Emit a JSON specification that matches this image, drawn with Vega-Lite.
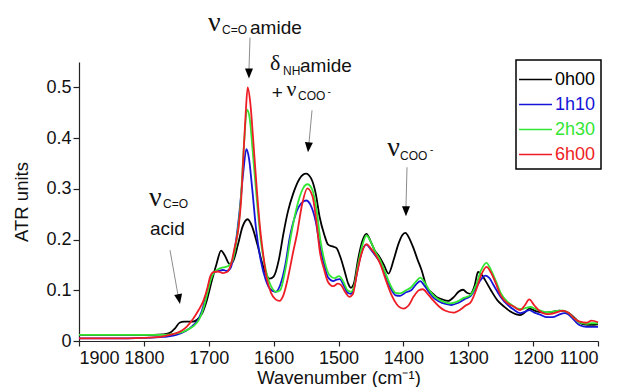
{
  "$schema": "https://vega.github.io/schema/vega-lite/v6.json",
  "width": 519,
  "height": 279,
  "autosize": {"type": "none"},
  "padding": {"left": 79, "top": 62, "right": 20, "bottom": 46},
  "background": "white",
  "config": {
    "view": {"stroke": null},
    "font": "Liberation Sans",
    "axis": {"grid": false, "domainColor": "#222", "tickColor": "#222", "domainWidth": 1.2, "tickWidth": 1.2, "labelColor": "#111", "titleColor": "#111", "labelFontSize": 18, "titleFontSize": 18.5, "titleFontWeight": "normal", "labelFont": "Liberation Sans", "titleFont": "Liberation Sans"}
  },
  "datasets": {
    "spectra": [
      {"s":"0h00","w":1900,"v":0.012},{"s":"0h00","w":1850,"v":0.012},{"s":"0h00","w":1800,"v":0.012},{"s":"0h00","w":1770,"v":0.013},{"s":"0h00","w":1760,"v":0.016},{"s":"0h00","w":1752,"v":0.025},{"s":"0h00","w":1745,"v":0.036},{"s":"0h00","w":1738,"v":0.038},{"s":"0h00","w":1725,"v":0.038},{"s":"0h00","w":1718,"v":0.042},{"s":"0h00","w":1710,"v":0.055},{"s":"0h00","w":1703,"v":0.08},{"s":"0h00","w":1695,"v":0.12},{"s":"0h00","w":1688,"v":0.152},{"s":"0h00","w":1681,"v":0.178},{"s":"0h00","w":1675,"v":0.168},{"s":"0h00","w":1668,"v":0.152},{"s":"0h00","w":1663,"v":0.156},{"s":"0h00","w":1655,"v":0.19},{"s":"0h00","w":1648,"v":0.225},{"s":"0h00","w":1640,"v":0.24},{"s":"0h00","w":1633,"v":0.225},{"s":"0h00","w":1625,"v":0.19},{"s":"0h00","w":1618,"v":0.155},{"s":"0h00","w":1612,"v":0.132},{"s":"0h00","w":1606,"v":0.123},{"s":"0h00","w":1600,"v":0.127},{"s":"0h00","w":1592,"v":0.16},{"s":"0h00","w":1585,"v":0.211},{"s":"0h00","w":1578,"v":0.255},{"s":"0h00","w":1570,"v":0.29},{"s":"0h00","w":1560,"v":0.32},{"s":"0h00","w":1550,"v":0.33},{"s":"0h00","w":1542,"v":0.32},{"s":"0h00","w":1535,"v":0.29},{"s":"0h00","w":1529,"v":0.244},{"s":"0h00","w":1522,"v":0.21},{"s":"0h00","w":1516,"v":0.19},{"s":"0h00","w":1508,"v":0.186},{"s":"0h00","w":1503,"v":0.183},{"s":"0h00","w":1497,"v":0.165},{"s":"0h00","w":1490,"v":0.135},{"s":"0h00","w":1485,"v":0.113},{"s":"0h00","w":1481,"v":0.105},{"s":"0h00","w":1476,"v":0.115},{"s":"0h00","w":1470,"v":0.16},{"s":"0h00","w":1463,"v":0.198},{"s":"0h00","w":1457,"v":0.211},{"s":"0h00","w":1450,"v":0.195},{"s":"0h00","w":1444,"v":0.178},{"s":"0h00","w":1438,"v":0.168},{"s":"0h00","w":1430,"v":0.15},{"s":"0h00","w":1423,"v":0.133},{"s":"0h00","w":1415,"v":0.16},{"s":"0h00","w":1408,"v":0.19},{"s":"0h00","w":1402,"v":0.208},{"s":"0h00","w":1397,"v":0.213},{"s":"0h00","w":1390,"v":0.2},{"s":"0h00","w":1385,"v":0.185},{"s":"0h00","w":1378,"v":0.16},{"s":"0h00","w":1372,"v":0.14},{"s":"0h00","w":1364,"v":0.106},{"s":"0h00","w":1356,"v":0.095},{"s":"0h00","w":1349,"v":0.087},{"s":"0h00","w":1340,"v":0.082},{"s":"0h00","w":1331,"v":0.079},{"s":"0h00","w":1322,"v":0.087},{"s":"0h00","w":1315,"v":0.097},{"s":"0h00","w":1308,"v":0.101},{"s":"0h00","w":1302,"v":0.095},{"s":"0h00","w":1297,"v":0.093},{"s":"0h00","w":1290,"v":0.11},{"s":"0h00","w":1285,"v":0.136},{"s":"0h00","w":1280,"v":0.132},{"s":"0h00","w":1274,"v":0.12},{"s":"0h00","w":1265,"v":0.1},{"s":"0h00","w":1255,"v":0.08},{"s":"0h00","w":1245,"v":0.068},{"s":"0h00","w":1235,"v":0.058},{"s":"0h00","w":1227,"v":0.053},{"s":"0h00","w":1220,"v":0.051},{"s":"0h00","w":1213,"v":0.056},{"s":"0h00","w":1206,"v":0.064},{"s":"0h00","w":1198,"v":0.06},{"s":"0h00","w":1189,"v":0.057},{"s":"0h00","w":1180,"v":0.056},{"s":"0h00","w":1169,"v":0.058},{"s":"0h00","w":1160,"v":0.06},{"s":"0h00","w":1152,"v":0.059},{"s":"0h00","w":1145,"v":0.055},{"s":"0h00","w":1138,"v":0.048},{"s":"0h00","w":1130,"v":0.038},{"s":"0h00","w":1122,"v":0.033},{"s":"0h00","w":1110,"v":0.032},{"s":"0h00","w":1100,"v":0.033},

      {"s":"1h10","w":1900,"v":0.005},{"s":"1h10","w":1850,"v":0.005},{"s":"1h10","w":1800,"v":0.006},{"s":"1h10","w":1770,"v":0.008},{"s":"1h10","w":1750,"v":0.012},{"s":"1h10","w":1735,"v":0.02},{"s":"1h10","w":1725,"v":0.03},{"s":"1h10","w":1715,"v":0.045},{"s":"1h10","w":1708,"v":0.07},{"s":"1h10","w":1702,"v":0.1},{"s":"1h10","w":1697,"v":0.125},{"s":"1h10","w":1693,"v":0.135},{"s":"1h10","w":1685,"v":0.138},{"s":"1h10","w":1678,"v":0.14},{"s":"1h10","w":1672,"v":0.138},{"s":"1h10","w":1666,"v":0.145},{"s":"1h10","w":1660,"v":0.18},{"s":"1h10","w":1653,"v":0.25},{"s":"1h10","w":1647,"v":0.33},{"s":"1h10","w":1642,"v":0.378},{"s":"1h10","w":1638,"v":0.36},{"s":"1h10","w":1633,"v":0.3},{"s":"1h10","w":1627,"v":0.22},{"s":"1h10","w":1620,"v":0.16},{"s":"1h10","w":1612,"v":0.12},{"s":"1h10","w":1605,"v":0.102},{"s":"1h10","w":1597,"v":0.097},{"s":"1h10","w":1590,"v":0.11},{"s":"1h10","w":1582,"v":0.15},{"s":"1h10","w":1575,"v":0.205},{"s":"1h10","w":1566,"v":0.25},{"s":"1h10","w":1557,"v":0.272},{"s":"1h10","w":1550,"v":0.277},{"s":"1h10","w":1543,"v":0.268},{"s":"1h10","w":1535,"v":0.235},{"s":"1h10","w":1529,"v":0.19},{"s":"1h10","w":1522,"v":0.15},{"s":"1h10","w":1516,"v":0.125},{"s":"1h10","w":1508,"v":0.118},{"s":"1h10","w":1503,"v":0.121},{"s":"1h10","w":1498,"v":0.122},{"s":"1h10","w":1492,"v":0.11},{"s":"1h10","w":1486,"v":0.095},{"s":"1h10","w":1481,"v":0.093},{"s":"1h10","w":1476,"v":0.105},{"s":"1h10","w":1470,"v":0.145},{"s":"1h10","w":1463,"v":0.18},{"s":"1h10","w":1457,"v":0.19},{"s":"1h10","w":1450,"v":0.18},{"s":"1h10","w":1443,"v":0.168},{"s":"1h10","w":1436,"v":0.155},{"s":"1h10","w":1428,"v":0.13},{"s":"1h10","w":1420,"v":0.105},{"s":"1h10","w":1412,"v":0.09},{"s":"1h10","w":1405,"v":0.089},{"s":"1h10","w":1396,"v":0.096},{"s":"1h10","w":1388,"v":0.1},{"s":"1h10","w":1380,"v":0.112},{"s":"1h10","w":1374,"v":0.118},{"s":"1h10","w":1367,"v":0.108},{"s":"1h10","w":1360,"v":0.095},{"s":"1h10","w":1354,"v":0.086},{"s":"1h10","w":1345,"v":0.078},{"s":"1h10","w":1335,"v":0.073},{"s":"1h10","w":1326,"v":0.071},{"s":"1h10","w":1316,"v":0.075},{"s":"1h10","w":1305,"v":0.083},{"s":"1h10","w":1297,"v":0.088},{"s":"1h10","w":1288,"v":0.105},{"s":"1h10","w":1280,"v":0.122},{"s":"1h10","w":1274,"v":0.129},{"s":"1h10","w":1268,"v":0.125},{"s":"1h10","w":1260,"v":0.108},{"s":"1h10","w":1250,"v":0.087},{"s":"1h10","w":1240,"v":0.072},{"s":"1h10","w":1230,"v":0.062},{"s":"1h10","w":1220,"v":0.055},{"s":"1h10","w":1212,"v":0.058},{"s":"1h10","w":1206,"v":0.061},{"s":"1h10","w":1198,"v":0.056},{"s":"1h10","w":1189,"v":0.052},{"s":"1h10","w":1179,"v":0.047},{"s":"1h10","w":1170,"v":0.047},{"s":"1h10","w":1160,"v":0.052},{"s":"1h10","w":1152,"v":0.055},{"s":"1h10","w":1145,"v":0.052},{"s":"1h10","w":1136,"v":0.04},{"s":"1h10","w":1128,"v":0.031},{"s":"1h10","w":1118,"v":0.028},{"s":"1h10","w":1110,"v":0.028},{"s":"1h10","w":1100,"v":0.028},

      {"s":"2h30","w":1900,"v":0.012},{"s":"2h30","w":1850,"v":0.012},{"s":"2h30","w":1800,"v":0.012},{"s":"2h30","w":1770,"v":0.012},{"s":"2h30","w":1755,"v":0.014},{"s":"2h30","w":1740,"v":0.018},{"s":"2h30","w":1725,"v":0.028},{"s":"2h30","w":1715,"v":0.042},{"s":"2h30","w":1708,"v":0.065},{"s":"2h30","w":1702,"v":0.095},{"s":"2h30","w":1697,"v":0.12},{"s":"2h30","w":1692,"v":0.135},{"s":"2h30","w":1685,"v":0.142},{"s":"2h30","w":1678,"v":0.145},{"s":"2h30","w":1670,"v":0.148},{"s":"2h30","w":1663,"v":0.16},{"s":"2h30","w":1657,"v":0.2},{"s":"2h30","w":1651,"v":0.27},{"s":"2h30","w":1646,"v":0.38},{"s":"2h30","w":1641,"v":0.456},{"s":"2h30","w":1637,"v":0.44},{"s":"2h30","w":1632,"v":0.37},{"s":"2h30","w":1626,"v":0.28},{"s":"2h30","w":1620,"v":0.2},{"s":"2h30","w":1612,"v":0.14},{"s":"2h30","w":1604,"v":0.108},{"s":"2h30","w":1596,"v":0.097},{"s":"2h30","w":1590,"v":0.1},{"s":"2h30","w":1582,"v":0.14},{"s":"2h30","w":1573,"v":0.21},{"s":"2h30","w":1563,"v":0.27},{"s":"2h30","w":1555,"v":0.3},{"s":"2h30","w":1548,"v":0.309},{"s":"2h30","w":1541,"v":0.3},{"s":"2h30","w":1534,"v":0.26},{"s":"2h30","w":1528,"v":0.2},{"s":"2h30","w":1521,"v":0.155},{"s":"2h30","w":1514,"v":0.13},{"s":"2h30","w":1506,"v":0.124},{"s":"2h30","w":1499,"v":0.128},{"s":"2h30","w":1493,"v":0.118},{"s":"2h30","w":1486,"v":0.1},{"s":"2h30","w":1481,"v":0.097},{"s":"2h30","w":1476,"v":0.108},{"s":"2h30","w":1470,"v":0.15},{"s":"2h30","w":1463,"v":0.19},{"s":"2h30","w":1457,"v":0.208},{"s":"2h30","w":1450,"v":0.195},{"s":"2h30","w":1443,"v":0.175},{"s":"2h30","w":1436,"v":0.16},{"s":"2h30","w":1428,"v":0.135},{"s":"2h30","w":1420,"v":0.11},{"s":"2h30","w":1412,"v":0.095},{"s":"2h30","w":1405,"v":0.094},{"s":"2h30","w":1396,"v":0.1},{"s":"2h30","w":1388,"v":0.106},{"s":"2h30","w":1380,"v":0.118},{"s":"2h30","w":1374,"v":0.125},{"s":"2h30","w":1367,"v":0.115},{"s":"2h30","w":1360,"v":0.1},{"s":"2h30","w":1352,"v":0.088},{"s":"2h30","w":1343,"v":0.08},{"s":"2h30","w":1335,"v":0.076},{"s":"2h30","w":1328,"v":0.074},{"s":"2h30","w":1318,"v":0.077},{"s":"2h30","w":1307,"v":0.085},{"s":"2h30","w":1297,"v":0.09},{"s":"2h30","w":1288,"v":0.11},{"s":"2h30","w":1280,"v":0.14},{"s":"2h30","w":1272,"v":0.154},{"s":"2h30","w":1265,"v":0.14},{"s":"2h30","w":1258,"v":0.12},{"s":"2h30","w":1250,"v":0.095},{"s":"2h30","w":1240,"v":0.078},{"s":"2h30","w":1232,"v":0.07},{"s":"2h30","w":1224,"v":0.064},{"s":"2h30","w":1217,"v":0.063},{"s":"2h30","w":1210,"v":0.066},{"s":"2h30","w":1204,"v":0.067},{"s":"2h30","w":1196,"v":0.063},{"s":"2h30","w":1189,"v":0.06},{"s":"2h30","w":1180,"v":0.057},{"s":"2h30","w":1170,"v":0.058},{"s":"2h30","w":1160,"v":0.06},{"s":"2h30","w":1154,"v":0.06},{"s":"2h30","w":1145,"v":0.055},{"s":"2h30","w":1136,"v":0.044},{"s":"2h30","w":1128,"v":0.036},{"s":"2h30","w":1118,"v":0.034},{"s":"2h30","w":1110,"v":0.035},{"s":"2h30","w":1100,"v":0.035},

      {"s":"6h00","w":1900,"v":0.005},{"s":"6h00","w":1850,"v":0.005},{"s":"6h00","w":1800,"v":0.006},{"s":"6h00","w":1775,"v":0.008},{"s":"6h00","w":1760,"v":0.012},{"s":"6h00","w":1745,"v":0.018},{"s":"6h00","w":1735,"v":0.027},{"s":"6h00","w":1724,"v":0.044},{"s":"6h00","w":1716,"v":0.06},{"s":"6h00","w":1708,"v":0.08},{"s":"6h00","w":1702,"v":0.105},{"s":"6h00","w":1698,"v":0.126},{"s":"6h00","w":1693,"v":0.136},{"s":"6h00","w":1686,"v":0.137},{"s":"6h00","w":1678,"v":0.134},{"s":"6h00","w":1672,"v":0.136},{"s":"6h00","w":1666,"v":0.15},{"s":"6h00","w":1660,"v":0.185},{"s":"6h00","w":1654,"v":0.224},{"s":"6h00","w":1650,"v":0.28},{"s":"6h00","w":1647,"v":0.355},{"s":"6h00","w":1643,"v":0.45},{"s":"6h00","w":1640,"v":0.5},{"s":"6h00","w":1636,"v":0.47},{"s":"6h00","w":1631,"v":0.388},{"s":"6h00","w":1626,"v":0.3},{"s":"6h00","w":1621,"v":0.224},{"s":"6h00","w":1616,"v":0.17},{"s":"6h00","w":1611,"v":0.126},{"s":"6h00","w":1604,"v":0.095},{"s":"6h00","w":1597,"v":0.082},{"s":"6h00","w":1591,"v":0.079},{"s":"6h00","w":1585,"v":0.09},{"s":"6h00","w":1577,"v":0.13},{"s":"6h00","w":1570,"v":0.175},{"s":"6h00","w":1564,"v":0.211},{"s":"6h00","w":1556,"v":0.27},{"s":"6h00","w":1548,"v":0.301},{"s":"6h00","w":1540,"v":0.285},{"s":"6h00","w":1534,"v":0.235},{"s":"6h00","w":1529,"v":0.178},{"s":"6h00","w":1522,"v":0.14},{"s":"6h00","w":1516,"v":0.116},{"s":"6h00","w":1508,"v":0.108},{"s":"6h00","w":1501,"v":0.113},{"s":"6h00","w":1496,"v":0.11},{"s":"6h00","w":1489,"v":0.095},{"s":"6h00","w":1483,"v":0.087},{"s":"6h00","w":1478,"v":0.092},{"s":"6h00","w":1472,"v":0.13},{"s":"6h00","w":1465,"v":0.17},{"s":"6h00","w":1457,"v":0.191},{"s":"6h00","w":1450,"v":0.182},{"s":"6h00","w":1442,"v":0.168},{"s":"6h00","w":1435,"v":0.15},{"s":"6h00","w":1427,"v":0.12},{"s":"6h00","w":1418,"v":0.09},{"s":"6h00","w":1410,"v":0.072},{"s":"6h00","w":1400,"v":0.064},{"s":"6h00","w":1392,"v":0.07},{"s":"6h00","w":1384,"v":0.088},{"s":"6h00","w":1376,"v":0.1},{"s":"6h00","w":1370,"v":0.102},{"s":"6h00","w":1362,"v":0.092},{"s":"6h00","w":1354,"v":0.08},{"s":"6h00","w":1345,"v":0.068},{"s":"6h00","w":1336,"v":0.06},{"s":"6h00","w":1323,"v":0.056},{"s":"6h00","w":1312,"v":0.062},{"s":"6h00","w":1304,"v":0.07},{"s":"6h00","w":1297,"v":0.075},{"s":"6h00","w":1288,"v":0.1},{"s":"6h00","w":1280,"v":0.13},{"s":"6h00","w":1272,"v":0.146},{"s":"6h00","w":1265,"v":0.135},{"s":"6h00","w":1258,"v":0.115},{"s":"6h00","w":1250,"v":0.09},{"s":"6h00","w":1240,"v":0.075},{"s":"6h00","w":1230,"v":0.068},{"s":"6h00","w":1220,"v":0.061},{"s":"6h00","w":1213,"v":0.07},{"s":"6h00","w":1206,"v":0.082},{"s":"6h00","w":1198,"v":0.07},{"s":"6h00","w":1189,"v":0.058},{"s":"6h00","w":1180,"v":0.053},{"s":"6h00","w":1170,"v":0.054},{"s":"6h00","w":1160,"v":0.058},{"s":"6h00","w":1154,"v":0.06},{"s":"6h00","w":1145,"v":0.055},{"s":"6h00","w":1136,"v":0.044},{"s":"6h00","w":1128,"v":0.038},{"s":"6h00","w":1118,"v":0.036},{"s":"6h00","w":1110,"v":0.04},{"s":"6h00","w":1100,"v":0.037}
    ],
    "notes": [
      {"t":"amide","role":"main","w":1636.4,"v":0.6053},
      {"t":"amide","role":"main","w":1559.3,"v":0.530},
      {"t":"acid","role":"main","w":1790.6,"v":0.2087},
      {"t":"+","role":"main","w":1603,"v":0.478},
      {"t":"ν","role":"greek","w":1701.1,"v":0.612},
      {"t":"ν","role":"greek","w":1424.8,"v":0.364},
      {"t":"ν","role":"greek","w":1792.1,"v":0.2658},
      {"t":"δ","role":"greek2","w":1605.6,"v":0.5335},
      {"t":"ν","role":"greek2","w":1580,"v":0.482},
      {"t":"C=O","role":"sub","w":1679.6,"v":0.6043},
      {"t":"NH","role":"sub","w":1585.6,"v":0.5236},
      {"t":"COO","role":"sub","w":1562.4,"v":0.4744},
      {"t":"COO","role":"sub","w":1405.2,"v":0.3563},
      {"t":"C=O","role":"sub","w":1770.5,"v":0.2618},
      {"t":"-","role":"sup","w":1517,"v":0.484},
      {"t":"-","role":"sup","w":1359,"v":0.371}
    ],
    "arrows": [
      {"id":"a1","w":1636.4,"v":0.598,"w2":1638,"v2":0.535,"tw":1638,"tv":0.5177},
      {"id":"a2","w":1540.8,"v":0.4547,"w2":1545.5,"v2":0.3898,"tw":1547,"tv":0.372},
      {"id":"a3","w":1394.4,"v":0.3425,"w2":1396,"v2":0.2638,"tw":1396,"tv":0.246},
      {"id":"a4","w":1759.7,"v":0.179,"w2":1747.4,"v2":0.0906,"tw":1744.3,"tv":0.0728}
    ]
  },
  "encoding": {
    "x": {"field": "w", "type": "quantitative", "scale": {"domain": [1100, 1900], "reverse": true, "nice": false, "zero": false},
      "axis": {"values": [1100,1200,1300,1400,1500,1600,1700,1800,1900], "format": "d", "tickSize": 5, "labelPadding": 3, "title": "Wavenumber (cm⁻¹)", "titleY": 42, "titleBaseline": "alphabetic"}},
    "y": {"field": "v", "type": "quantitative", "scale": {"domain": [0, 0.55], "nice": false},
      "axis": {"values": [0,0.1,0.2,0.3,0.4,0.5], "format": "~g", "tickSize": 6, "labelPadding": 2, "title": "ATR units", "titleX": -52, "titleBaseline": "alphabetic"}}
  },
  "layer": [
    {
      "data": {"name": "spectra"},
      "mark": {"type": "line", "interpolate": "monotone", "strokeWidth": 1.8},
      "encoding": {
        "color": {"field": "s", "type": "nominal",
          "scale": {"domain": ["0h00","1h10","2h30","6h00"], "range": ["#000000","#1515d8","#33e633","#ee1c24"]},
          "legend": {"orient": "none", "legendX": 437, "legendY": -2, "title": null,
            "symbolType": "M-1.22,0L1.22,0", "symbolSize": 729, "symbolStrokeWidth": 1.5,
            "labelFontSize": 18, "labelFont": "Liberation Sans", "labelOffset": 5, "rowPadding": 1,
            "padding": 5, "symbolOffset": 0, "strokeColor": "#000000", "fillColor": "#ffffff",
            "encode": {"labels": {"update": {"fill": {"scale": "color", "field": "value"}}},
                       "legend": {"update": {"strokeWidth": {"value": 1.5}}}}}
        }
      }
    },
    {
      "data": {"name": "arrows"},
      "mark": {"type": "rule", "color": "#8c8c8c", "strokeWidth": 1},
      "encoding": {"x2": {"field": "w2"}, "y2": {"field": "v2"}}
    },
    {
      "data": {"name": "arrows"},
      "mark": {"type": "point", "shape": "M-0.4,-1L0.4,-1L0,0Z", "filled": true, "color": "#000000", "size": 400, "opacity": 1, "strokeWidth": 0},
      "encoding": {
        "x": {"field": "tw", "type": "quantitative"},
        "y": {"field": "tv", "type": "quantitative"},
        "angle": {"condition": [{"test": "datum.id === 'a4'", "value": 349}, {"test": "datum.id === 'a2'", "value": 5}], "value": 0}
      }
    },
    {
      "data": {"name": "notes"},
      "transform": [{"filter": "datum.role === 'main'"}],
      "mark": {"type": "text", "align": "left", "baseline": "alphabetic", "fontSize": 19, "font": "Liberation Sans", "color": "#111"},
      "encoding": {"text": {"field": "t"}}
    },
    {
      "data": {"name": "notes"},
      "transform": [{"filter": "datum.role === 'greek'"}],
      "mark": {"type": "text", "align": "left", "baseline": "alphabetic", "fontSize": 28, "font": "Liberation Serif", "color": "#111"},
      "encoding": {"text": {"field": "t"}}
    },
    {
      "data": {"name": "notes"},
      "transform": [{"filter": "datum.role === 'greek2'"}],
      "mark": {"type": "text", "align": "left", "baseline": "alphabetic", "fontSize": 22, "font": "Liberation Serif", "color": "#111"},
      "encoding": {"text": {"field": "t"}}
    },
    {
      "data": {"name": "notes"},
      "transform": [{"filter": "datum.role === 'sub'"}],
      "mark": {"type": "text", "align": "left", "baseline": "alphabetic", "fontSize": 12, "font": "Liberation Sans", "color": "#111"},
      "encoding": {"text": {"field": "t"}}
    },
    {
      "data": {"name": "notes"},
      "transform": [{"filter": "datum.role === 'sup'"}],
      "mark": {"type": "text", "align": "left", "baseline": "alphabetic", "fontSize": 10, "font": "Liberation Sans", "color": "#111"},
      "encoding": {"text": {"field": "t"}}
    }
  ]
}
